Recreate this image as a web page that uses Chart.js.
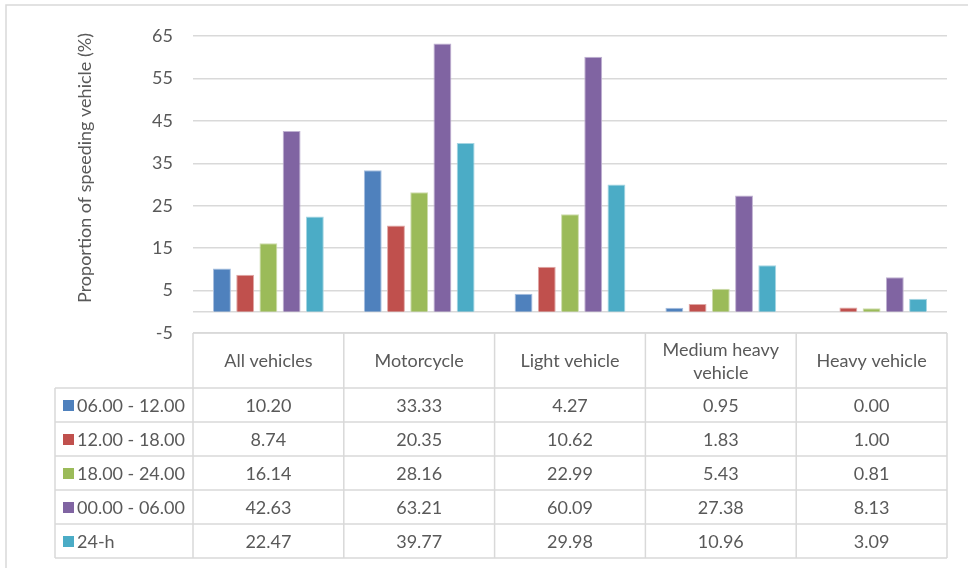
<!DOCTYPE html>
<html>
<head>
<meta charset="utf-8">
<script src="https://cdn.jsdelivr.net/npm/chart.js@4/dist/chart.umd.min.js"></script>
<style>
  html, body { margin: 0; padding: 0; background: #ffffff; }
  #wrap { width: 968px; height: 568px; position: relative; }
</style>
</head>
<body>
<div id="wrap"><canvas id="chart"></canvas></div>
<script>
// Vehicle classes (table columns)
const categories = [
  ['All vehicles'],
  ['Motorcycle'],
  ['Light vehicle'],
  ['Medium heavy', 'vehicle'],
  ['Heavy vehicle']
];

// Time periods (table rows / series)
const seriesNames = ['06.00 - 12.00', '12.00 - 18.00', '18.00 - 24.00', '00.00 - 06.00', '24-h'];

// Proportion of speeding vehicles (%) per period
const morning   = [10.20, 33.33, 4.27, 0.95, 0.00];
const afternoon = [8.74, 20.35, 10.62, 1.83, 1.00];
const evening   = [16.14, 28.16, 22.99, 5.43, 0.81];
const night     = [42.63, 63.21, 60.09, 27.38, 8.13];
const fullDay   = [22.47, 39.77, 29.98, 10.96, 3.09];

const yTicks = { min: -5, max: 65, step: 10 };
const yTitle = 'Proportion of speeding vehicle (%)';

const colors  = ['#4f81bd', '#c0504d', '#9bbb59', '#8064a2', '#4bacc6'];
const borders = ['#a7bfdf', '#e0a8a6', '#cddcac', '#bfb1d1', '#a5d5e2'];
const seriesValues = [morning, afternoon, evening, night, fullDay];

const FONT = 'Lato, "Liberation Sans", sans-serif';
const FONT_SIZE = 18;
const TEXT = '#595959';
const LINE = '#d9d9d9';

// Data table beneath the plot, plus frame, zero line and axis title
const tablePlugin = {
  id: 'dataTable',
  beforeDraw(chart) {
    const ctx = chart.ctx;
    ctx.save();
    ctx.strokeStyle = LINE;
    ctx.lineWidth = 1.5;
    ctx.strokeRect(6, 5, 1200, 1200);
    ctx.restore();
  },
  beforeDatasetsDraw(chart) {
    const { ctx, chartArea, scales } = chart;
    const y0 = scales.y.getPixelForValue(0);
    ctx.save();
    ctx.strokeStyle = LINE;
    ctx.lineWidth = 1.5;
    ctx.beginPath();
    ctx.moveTo(chartArea.left, y0);
    ctx.lineTo(chartArea.right, y0);
    ctx.stroke();
    ctx.restore();
  },
  afterDraw(chart) {
    const { ctx, chartArea, scales } = chart;
    const left = chartArea.left, right = chartArea.right;
    const top = chartArea.bottom;
    const colW = (right - left) / categories.length;
    const headerH = 55, rowH = 34;
    const labelLeft = 55;
    const rowsTop = top + headerH;
    const bottom = rowsTop + rowH * seriesNames.length;

    ctx.save();
    ctx.strokeStyle = LINE;
    ctx.lineWidth = 1.5;
    ctx.beginPath();
    // header top
    ctx.moveTo(left, top); ctx.lineTo(right, top);
    // row lines
    for (let r = 0; r <= seriesNames.length; r++) {
      const y = rowsTop + r * rowH;
      ctx.moveTo(labelLeft, y); ctx.lineTo(right, y);
    }
    // column lines
    for (let c = 0; c <= categories.length; c++) {
      const x = left + c * colW;
      ctx.moveTo(x, top); ctx.lineTo(x, bottom);
    }
    ctx.moveTo(labelLeft, rowsTop); ctx.lineTo(labelLeft, bottom);
    ctx.stroke();

    ctx.font = FONT_SIZE + 'px ' + FONT;
    ctx.fillStyle = TEXT;
    ctx.textAlign = 'center';
    ctx.textBaseline = 'middle';
    // header labels
    categories.forEach((lines, c) => {
      const cx = scales.x.getPixelForValue(c);
      const cy = top + headerH / 2 + 1;
      const lh = 23;
      lines.forEach((t, i) => {
        ctx.fillText(t, cx, cy + (i - (lines.length - 1) / 2) * lh);
      });
    });
    // values
    seriesValues.forEach((vals, r) => {
      const cy = rowsTop + r * rowH + rowH / 2 + 1;
      vals.forEach((v, c) => {
        ctx.fillText(v.toFixed(2), scales.x.getPixelForValue(c), cy);
      });
      // legend key + row label
      ctx.fillStyle = colors[r];
      ctx.fillRect(63, cy - 6, 11, 11);
      ctx.fillStyle = TEXT;
      ctx.textAlign = 'left';
      ctx.fillText(seriesNames[r], 77, cy);
      ctx.textAlign = 'center';
    });

    // axis title
    ctx.translate(85, 168);
    ctx.rotate(-Math.PI / 2);
    ctx.fillText(yTitle, 0, 0);
    ctx.restore();
  }
};

new Chart(document.getElementById('chart'), {
  type: 'bar',
  data: {
    labels: categories.map(l => l.join(' ')),
    datasets: seriesNames.map((name, i) => ({
      label: name,
      data: seriesValues[i],
      backgroundColor: colors[i],
      borderColor: borders[i],
      borderWidth: 1,
      categoryPercentage: 0.77,
      barPercentage: 0.77
    }))
  },
  options: {
    responsive: true,
    maintainAspectRatio: false,
    animation: false,
    layout: { padding: { top: 36, right: 21, left: 0, bottom: 0 } },
    plugins: { legend: { display: false }, tooltip: { enabled: false } },
    scales: {
      x: {
        grid: { display: false },
        border: { display: false },
        ticks: { display: false },
        afterFit(scale) { scale.height = 235; }
      },
      y: {
        min: yTicks.min,
        max: yTicks.max,
        ticks: {
          stepSize: yTicks.step,
          color: TEXT,
          padding: 20,
          font: { family: FONT, size: FONT_SIZE }
        },
        grid: { color: LINE, lineWidth: 1.5, drawTicks: false },
        border: { display: false },
        afterFit(scale) { scale.width = 193; }
      }
    }
  },
  plugins: [tablePlugin]
});
</script>
</body>
</html>
